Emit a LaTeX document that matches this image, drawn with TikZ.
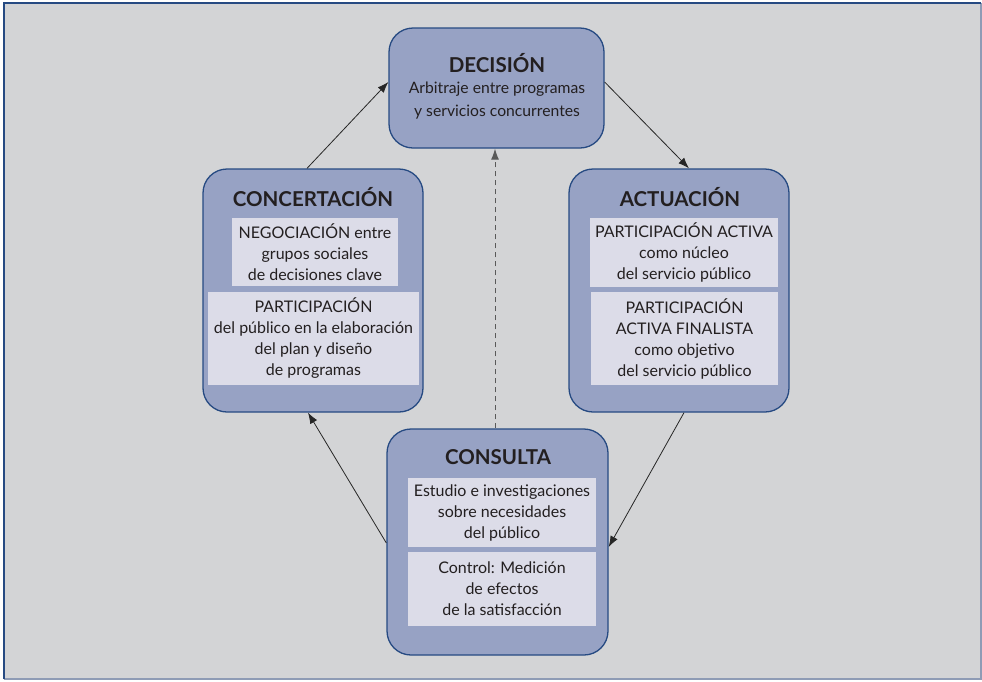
\documentclass[tikz,border=0pt]{standalone}
\usepackage{fontspec}
\setmainfont{Lato}
\usetikzlibrary{arrows.meta}
\definecolor{bg}{HTML}{D3D4D6}
\definecolor{boxfill}{HTML}{97A2C4}
\definecolor{panelfill}{HTML}{DCDCE8}
\definecolor{frameblue}{HTML}{264A82}
\definecolor{lightframe}{HTML}{8E9BB5}
\definecolor{txt}{HTML}{231F20}
\begin{document}
\begin{tikzpicture}[x=1pt,y=-1pt,
  bigbox/.style={draw=frameblue, line width=1.3pt, fill=boxfill, rounded corners=24pt, inner sep=0pt},
  panel/.style={fill=panelfill, inner sep=0pt, align=center, text=txt, font=\fontsize{16}{21}\selectfont},
  titletext/.style={text=txt, font=\bfseries\fontsize{20.5}{22}\selectfont, inner sep=0pt},
  bodytext/.style={text=txt, align=center, inner sep=0pt, font=\fontsize{15.7}{23}\selectfont},
  conn/.style={-{Latex[length=11pt,width=8pt]}, line width=0.8pt, draw=black!85},
  dashconn/.style={-{Latex[length=11pt,width=8pt]}, line width=1pt, draw=black!65, dash pattern=on 5pt off 4pt}]
\useasboundingbox (0,0) rectangle (982,681);
\fill[bg] (4,3) rectangle (981,679);
\draw[lightframe, line width=1.2pt] (4,679) -- (981,679) -- (981,3);
\draw[frameblue, line width=1.5pt] (4,679) -- (4,3) -- (981,3);

% big boxes
\node[bigbox, minimum width=215pt, minimum height=120pt] (dec) at (496.5,88) {};
\node[bigbox, minimum width=220pt, minimum height=243pt] (conc) at (313,290.5) {};
\node[bigbox, minimum width=220pt, minimum height=243pt] (act) at (679,290.5) {};
\node[bigbox, minimum width=221pt, minimum height=226pt] (cons) at (497.5,542) {};

% titles
\node[titletext] (dect) at (497,63) {DECISIÓN};
\node[bodytext] (decb) at (497,101) {Arbitraje entre programas\\y servicios concurrentes};
\node[titletext] (conct) at (313,197) {CONCERTACIÓN};
\node[titletext] (actt) at (680,197) {ACTUACIÓN};
\node[titletext] (const) at (498,457) {CONSULTA};

% panels
\node[panel, minimum width=166pt, minimum height=68pt] (cp1) at (315,252) {NEGOCIACIÓN entre\\grupos sociales\\de decisiones clave};
\node[panel, minimum width=211pt, minimum height=93pt] (cp2) at (313.5,338.5) {PARTICIPACIÓN\\del público en la elaboración\\del plan y diseño\\de programas};
\node[panel, minimum width=188pt, minimum height=69pt] (ap1) at (684,252.5) {PARTICIPACIÓN ACTIVA\\como núcleo\\del servicio público};
\node[panel, minimum width=187pt, minimum height=93pt] (ap2) at (684.5,338.5) {PARTICIPACIÓN\\ACTIVA FINALISTA\\como objetivo\\del servicio público};
\node[panel, minimum width=188pt, minimum height=69pt] (sp1) at (502,512.5) {Estudio e investigaciones\\sobre necesidades\\del público};
\node[panel, minimum width=188pt, minimum height=74pt] (sp2) at (502,589) {Control: Medición\\de efectos\\de la satisfacción};

% connectors
\draw[conn] ([xshift=-6pt]conc.north) -- ([yshift=6pt]dec.west);
\draw[conn] ([yshift=6pt]dec.east) -- ([xshift=10pt]act.north);
\draw[conn] ([xshift=5pt]act.south) -- ([yshift=-5pt]cons.east);
\draw[conn] ([yshift=-1pt]cons.west) -- ([xshift=-5pt]conc.south);
\draw[dashconn] ([xshift=-2.5pt]cons.north) -- ([xshift=-1.5pt]dec.south);
\end{tikzpicture}
\end{document}
